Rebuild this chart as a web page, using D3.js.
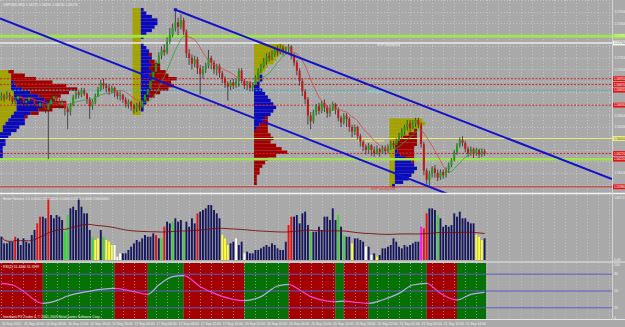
<!DOCTYPE html>
<html>
<head>
<meta charset="utf-8">
<script src="https://cdn.jsdelivr.net/npm/d3@7/dist/d3.min.js"></script>
<style>
  body { margin: 0; background: #a9a9a9; overflow: hidden; }
  svg text { font-family: "Liberation Sans", Arial, sans-serif; font-size: 3.4px; }
</style>
</head>
<body>
<script>
// ---------- data ----------
// prices are stored as pips above 1.5500
const symbolInfo = "GBPUSD,M30  1.56275 1.56290 1.56250 1.56270";
const timeLabels = ["16 Sep 2010", "16 Sep 04:00", "16 Sep 08:00", "16 Sep 12:00", "16 Sep 16:00", "16 Sep 20:00",
    "17 Sep 00:00", "17 Sep 04:00", "17 Sep 08:00", "17 Sep 12:00", "17 Sep 16:00", "19 Sep 22:00",
    "20 Sep 02:00", "20 Sep 06:00", "20 Sep 10:00", "20 Sep 14:00", "20 Sep 18:00", "20 Sep 22:00",
    "21 Sep 02:00", "21 Sep 06:00", "21 Sep 10:00", "21 Sep 14:00"];

const firstOpenPips = 175;
const closePips = [177,175,178,176,172,174,177,175,171,173, 176,174,170,168,171,167,165,170,174,177,
    173,169,172,166,163,169,176,180,178,182, 179,174,168,172,177,183,188,186,184,181,
    184,180,177,178,174,170,172,168,166,169, 167,173,178,183,190,198,205,212,217,215,
    224,230,236,241,237,243,233,214,210,205, 209,201,196,200,203,210,206,200,203,197,
    192,188,185,189,186,190,199,190,186,188, 184,187,193,199,203,207,212,210,214,218,
    215,219,216,218,220,212,206,199,190,181, 174,160,155,163,168,164,171,167,162,166,
    170,165,158,154,160,157,150,146,150,142, 137,133,130,134,130,127,131,128,132,129,
    133,136,134,138,142,146,150,153,149,153, 156,152,135,112,104,109,114,110,106,111,
    108,113,117,121,128,134,139,136,131,127, 131,127,130,126,129,127];
const highPips = [180,179,181,180,177,176,179,178,176,175, 178,178,175,172,173,172,169,172,176,180,
    178,175,174,173,168,171,178,183,182,184, 184,180,176,174,179,185,191,192,188,187,
    186,185,182,181,179,176,174,173,170,171, 172,175,180,185,193,200,208,215,220,222,
    228,236,240,252,245,248,245,235,218,213, 212,211,204,203,206,217,212,208,205,205,
    199,194,190,191,192,192,201,201,192,190, 190,189,195,201,205,210,214,215,217,220,
    221,222,221,220,222,221,214,208,201,192, 183,176,163,165,170,171,173,174,169,168,
    172,171,167,160,162,162,159,152,152,151, 144,139,135,136,135,133,134,132,134,134,
    135,138,138,140,145,149,152,156,156,156, 158,158,154,137,114,112,116,117,113,113,
    113,115,119,123,130,136,141,142,138,133, 133,132,132,131,131,131];
const lowPips = [173,172,174,173,170,170,172,171,169,168, 171,172,167,165,166,164,162,122,168,172,
    170,166,166,160,148,160,168,174,175,176, 177,170,157,165,170,176,181,183,180,178,
    179,176,174,173,171,167,166,164,162,163, 164,166,171,177,182,188,196,203,209,212,
    213,222,228,233,230,235,230,210,204,200, 202,196,178,192,197,201,200,196,195,193,
    188,184,173,182,183,184,185,188,183,182, 181,181,185,191,197,201,204,207,208,211,
    212,213,212,213,214,209,203,195,186,177, 170,152,148,153,160,161,162,163,158,159,
    164,161,155,150,152,150,146,141,143,139, 133,129,126,127,125,124,126,124,127,126,
    127,130,131,132,136,140,143,147,146,148, 150,149,132,108,100,99,106,106,103,104,
    105,106,110,115,120,126,132,133,128,124, 125,123,125,123,124,125];

const volumes = [528,378,378,415,415,528,491,340,491,415, 378,566,680,830,982,982,944,1397,1019,944,
    1019,982,906,642,1019,1170,1208,1133,1397,1208, 1057,1057,680,528,453,491,680,528,453,415,
    340,340,76,151,151,151,227,302,378,453, 415,491,566,528,528,604,566,491,491,755,
    868,830,868,944,868,906,642,868,755,944, 830,1057,1095,1133,1170,1246,1246,1133,1057,944,
    566,491,340,378,415,491,340,415,151,189, 151,151,227,227,264,302,340,302,378,340,
    264,227,227,415,793,982,982,1019,830,1057, 1095,793,642,642,642,755,680,982,982,906,
    1170,906,1019,755,566,528,528,378,491,491, 453,415,302,302,113,151,76,113,264,264,
    302,340,491,415,302,264,340,302,340,378, 415,415,755,717,1057,1170,1170,1133,1019,944,
    755,793,755,793,1057,982,1095,944,944,868, 830,830,566,528,453,491];
// Better Volume bar class: n normal, r climax, g churn, y/w low volume, m climax+churn
const volumeKinds = ("nnnnnrnnnn" + "nnnrrnnrnn" + "nnnggnnnnn" + "nnngyyngyy" + "ywwwnnnnnn" +
    "nnnnnnrngr" + "nngnnngnnn" + "nrnnnnnnnn" + "yyynnwnnwn" + "nnnnnnnnnn" +
    "nnnnrrnnnn" + "nngnnnnnnn" + "nngngnnynn" + "nnwnwnynnn" + "nnnnnnnnnn" +
    "nnmrrnnngn" + "nnnnnnnnnn" + "nnyyyn").split("");

// RSI turning points [bar, value]
const rsiPoints = [[0,63.7],[4,60.7],[9,45.8],[13,30.9],[15,28],[20,32.7],[24,41],[31,48.8],[36,53],[41,54.8],
    [48,49],[53,44],[57,60.7],[62,75.6],[66,77.4],[72,57.7],[78,44],[84,35],[88,32.7],[94,39.9],
    [100,58.9],[104,62],[108,51.8],[112,39.9],[115,35],[121,31],[124,32],[129,29.5],[133,28],[138,34],
    [144,45.8],[149,60.7],[154,63.7],[159,45.8],[165,34],[170,44],[175,47.7]];
const rsiLevels = [80, 50, 20];

// market profiles: start bar, rows [pips, olive TPO, blue TPO, red TPO]
const profileStarts = [0, 48, 92, 141];
const profileA = [[198,3,0,2],[195,4,0,5],[192,4,0,9],[189,4,1,14],[186,4,2,18],[183,4,4,20],[180,5,6,14],
    [177,5,9,8],[174,5,11,4],[171,6,12,6],[168,6,10,8],[165,6,8,5],[162,5,6,3],[159,4,5,1],[156,3,6,0],
    [153,2,7,0],[150,1,6,0],[147,1,5,0],[144,0,4,0],[141,0,3,0],[138,0,2,0],[135,0,2,0],[132,0,1,0],
    [129,0,1,0],[126,0,1,0],[123,0,1,0]];
const profileB = [[252,3,1,0],[249,3,2,0],[246,3,4,0],[243,3,6,0],[240,3,6,0],[237,3,5,0],[234,3,4,0],
    [231,3,2,0],[228,3,1,0],[225,3,0,0],[222,3,1,0],[219,3,2,0],[216,3,3,0],[213,3,3,1],[210,3,4,0],
    [207,3,3,2],[204,3,4,3],[201,3,3,4],[198,3,4,5],[195,3,3,7],[192,3,4,9],[189,3,3,8],[186,3,3,9],
    [183,3,4,6],[180,3,3,4],[177,3,3,2],[174,3,2,1],[171,3,2,0],[168,3,1,0],[165,3,1,0],[162,3,0,0]];
const profileC = [[221,11,0,0],[218,12,0,0],[215,10,0,0],[212,9,0,0],[209,8,0,0],[206,7,0,0],[203,5,0,0],
    [200,4,0,0],[197,3,0,0],[194,2,1,0],[191,2,1,0],[188,1,1,0],[185,0,2,0],[182,0,3,0],[179,0,4,0],
    [176,0,5,0],[173,0,6,0],[170,0,7,0],[167,0,8,0],[164,0,7,0],[161,0,6,0],[158,0,4,1],[155,0,3,2],
    [152,0,2,3],[149,0,1,4],[146,0,0,5],[143,0,0,6],[140,0,0,7],[137,0,0,6],[134,0,0,8],[131,0,0,10],
    [128,0,0,12],[125,0,0,8],[122,0,0,5],[119,0,0,4],[116,0,0,3],[113,0,0,2],[110,0,0,2],[107,0,0,1],
    [104,0,0,1],[101,0,0,1]];
const profileD = [[156,12,0,0],[153,13,0,0],[150,11,0,0],[147,9,0,1],[144,7,0,3],[141,5,0,5],[138,3,0,7],
    [135,2,0,8],[132,2,0,7],[129,2,1,6],[126,2,2,5],[123,2,4,3],[120,2,6,1],[117,2,7,0],[114,2,8,0],
    [111,2,7,0],[108,2,6,0],[105,2,5,0],[102,2,3,0],[99,1,1,0]];

// horizontal levels
const levelPrices = [1.5729, 1.5723, 1.5692, 1.5687, 1.5682, 1.5669, 1.5640, 1.5627, 1.5622, 1.5598];
const levelKinds = ["green", "white", "reddot", "reddot", "cyandot", "reddot", "yellow", "reddot", "greenlow", "red"];
const levelNotes = [[1, 136, "PDP resistance"], [4, 133, "PDP pivot"], [6, 129, "EXP weekly open"], [9, 134, "EXP weekly low"]];

// channel lines [bar, price]
const upperChannel = [[63, 1.5752], [150, 1.5671]];
const lowerChannel = [[0, 1.5744], [155, 1.5598]];

// ---------- layout ----------
const width = 625, height = 327;
const plotRight = 612;
const mainBottom = 193, volTop = 196, volBottom = 260, rsiTop = 263, rsiBottom = 319;
const bg = "#a9a9a9";

const nBars = closePips.length;
const x = d3.scaleLinear().domain([-0.5, nBars - 0.5]).range([0, 486]);
const step = x(1) - x(0);
const toPrice = p => 1.55 + p / 10000;
const y = d3.scaleLinear().domain([1.5750, 1.5600]).range([12, 184.5]);
const yVol = d3.scaleLinear().domain([0, 1450]).range([volBottom, volTop]);
const yRsi = d3.scaleLinear().domain([0, 100]).range([rsiBottom, rsiTop]);

const svg = d3.select("body").append("svg")
    .attr("width", width).attr("height", height)
    .style("display", "block");
svg.append("rect").attr("width", width).attr("height", height).attr("fill", bg);

const defs = svg.append("defs");
defs.append("clipPath").attr("id", "clipMain")
    .append("rect").attr("x", 0).attr("y", 0).attr("width", plotRight).attr("height", mainBottom);

const gridBars = d3.range(0, x.invert(plotRight), 4);
const priceTicks = d3.range(0, 17).map(k => 1.56 + k * 0.001);

// ---------- main panel ----------
const main = svg.append("g").attr("clip-path", "url(#clipMain)");

main.selectAll(".vgrid").data(gridBars).enter().append("line")
    .attr("x1", d => Math.round(x(d)) + 0.5).attr("x2", d => Math.round(x(d)) + 0.5)
    .attr("y1", 0).attr("y2", mainBottom)
    .attr("stroke", "#c4c4c4").attr("stroke-dasharray", "1,2");
main.selectAll(".hgrid").data(priceTicks).enter().append("line")
    .attr("x1", 0).attr("x2", plotRight)
    .attr("y1", d => Math.round(y(d)) + 0.5).attr("y2", d => Math.round(y(d)) + 0.5)
    .attr("stroke", "#c4c4c4").attr("stroke-dasharray", "1,2");

// volume profiles
const profileStep = 3;
const profileColors = ["#a3a300", "#0a0ab8", "#a00000"];
const profileSegs = [];
[profileA, profileB, profileC, profileD].forEach(function (rows, k) {
    rows.forEach(function (r) {
        let x0 = x(profileStarts[k] - 0.5);
        const yTop = y(toPrice(r[0] + profileStep / 2));
        const yBot = y(toPrice(r[0] - profileStep / 2));
        for (let c = 0; c < 3; c++) {
            const n = r[c + 1];
            if (n > 0) {
                profileSegs.push({ x: x0, w: n * step, y: yTop, h: yBot - yTop, color: profileColors[c] });
                x0 += n * step;
            }
        }
    });
});
main.selectAll(".prof").data(profileSegs).enter().append("rect")
    .attr("x", d => d.x).attr("y", d => d.y)
    .attr("width", d => d.w).attr("height", d => d.h)
    .attr("fill", d => d.color);

// level lines
const levelStyle = {
    green:    { stroke: "#a2e24e", width: 3,   dash: null,    box: "#a2e24e", text: "#f8f8f8" },
    greenlow: { stroke: "#a2e24e", width: 2.5, dash: null,    box: "#e01515", text: "#ffffff" },
    white:    { stroke: "#ececec", width: 1.5, dash: null,    box: "#f4f4f4", text: "#555555" },
    reddot:   { stroke: "#c82828", width: 1,   dash: "2,1.5", box: "#e01515", text: "#ffffff" },
    cyandot:  { stroke: "#3cb4c0", width: 1,   dash: "2,1.5", box: "#e01515", text: "#ffffff" },
    yellow:   { stroke: "#ecec70", width: 1,   dash: null,    box: "#f0f07a", text: "#444444" },
    red:      { stroke: "#d03030", width: 1,   dash: null,    box: "#e01515", text: "#ffffff" }
};
const levels = levelPrices.map((p, i) => ({ price: p, style: levelStyle[levelKinds[i]] }));
main.selectAll(".level").data(levels).enter().append("line")
    .attr("x1", 0).attr("x2", plotRight)
    .attr("y1", d => y(d.price)).attr("y2", d => y(d.price))
    .attr("stroke", d => d.style.stroke)
    .attr("stroke-width", d => d.style.width)
    .attr("stroke-dasharray", d => d.style.dash);

const noteColor = { green: "#eeeeee", white: "#f0f0f0", cyandot: "#6ee8ee", yellow: "#f0f070", red: "#e03030" };
main.selectAll(".note").data(levelNotes).enter().append("text")
    .attr("x", d => x(d[1]))
    .attr("y", d => y(levelPrices[d[0]]) + 3.2)
    .attr("fill", d => noteColor[levelKinds[d[0]]] || "#eeeeee")
    .text(d => d[2]);

// candles
const candles = closePips.map((c, i) => ({
    i: i,
    o: toPrice(i ? closePips[i - 1] : firstOpenPips),
    c: toPrice(c),
    h: toPrice(highPips[i]),
    l: toPrice(lowPips[i])
}));
const bodyW = step * 0.72;
main.selectAll(".wick").data(candles).enter().append("line")
    .attr("x1", d => x(d.i)).attr("x2", d => x(d.i))
    .attr("y1", d => y(d.h)).attr("y2", d => y(d.l))
    .attr("stroke", "#2c2c2c").attr("stroke-width", 0.8);
main.selectAll(".body").data(candles).enter().append("rect")
    .attr("x", d => x(d.i) - bodyW / 2)
    .attr("y", d => y(Math.max(d.o, d.c)))
    .attr("width", bodyW)
    .attr("height", d => Math.max(0.8, Math.abs(y(d.o) - y(d.c))))
    .attr("fill", d => d.c >= d.o ? "#1f9a1f" : "#c41616");

// moving average of closes, coloured by slope
function sma(arr, n) {
    return arr.map((_, i) => d3.mean(arr.slice(Math.max(0, i - n + 1), i + 1)));
}
const ma = sma(candles.map(d => d.c), 10);
const maSegs = d3.range(1, ma.length).map(i => ({ i: i, a: ma[i - 1], b: ma[i] }));
main.selectAll(".ma").data(maSegs).enter().append("line")
    .attr("x1", d => x(d.i - 1)).attr("x2", d => x(d.i))
    .attr("y1", d => y(d.a)).attr("y2", d => y(d.b))
    .attr("stroke", d => d.b >= d.a ? "#3aa040" : "#d04848")
    .attr("stroke-width", 0.8);

// channel lines
function chanPrice(pts, b) {
    const a = pts[0], c = pts[1];
    return a[1] + (c[1] - a[1]) * (b - a[0]) / (c[0] - a[0]);
}
const barRight = x.invert(plotRight);
const channels = [
    [upperChannel[0][0], barRight, upperChannel],
    [x.invert(0), barRight, lowerChannel]
];
main.selectAll(".chan").data(channels).enter().append("line")
    .attr("x1", d => x(d[0])).attr("x2", d => x(d[1]))
    .attr("y1", d => y(chanPrice(d[2], d[0]))).attr("y2", d => y(chanPrice(d[2], d[1])))
    .attr("stroke", "#1212c8").attr("stroke-width", 2);
main.append("rect")
    .attr("x", x(upperChannel[0][0]) - 1.5).attr("y", y(upperChannel[0][1]) - 1.5)
    .attr("width", 3).attr("height", 3).attr("fill", "#1212c8");

svg.append("text").attr("x", 3).attr("y", 6).attr("fill", "#f0f0f0").text(symbolInfo);

// ---------- volume panel ----------
const volG = svg.append("g");
volG.selectAll(".vgrid").data(gridBars).enter().append("line")
    .attr("x1", d => Math.round(x(d)) + 0.5).attr("x2", d => Math.round(x(d)) + 0.5)
    .attr("y1", volTop - 1).attr("y2", 261)
    .attr("stroke", "#c4c4c4").attr("stroke-dasharray", "1,2");

const volColor = { n: "#16165e", r: "#e41212", g: "#38d438", y: "#ffff30", w: "#ffffff", m: "#ff10ff" };
const volW = step * 0.68;
volG.selectAll(".vbar").data(volumes).enter().append("rect")
    .attr("x", (d, i) => x(i) - volW / 2)
    .attr("y", d => yVol(d))
    .attr("width", volW)
    .attr("height", d => volBottom - yVol(d))
    .attr("fill", (d, i) => volColor[volumeKinds[i]]);

const volMa = sma(volumes, 100);
volG.append("path")
    .datum(volMa)
    .attr("fill", "none")
    .attr("stroke", "#7a0c0c")
    .attr("stroke-width", 0.9)
    .attr("d", d3.line().x((d, i) => x(i)).y(d => yVol(d)));

svg.append("text").attr("x", 3).attr("y", 200).attr("fill", "#f0f0f0")
    .text("Better Volume 1.5 0.0000 1513.0000 0.0000 0.0000 0.0000 1563.0000");

// ---------- RSI panel ----------
const rsiG = svg.append("g");
const spans = [];
for (let k = 1; k < rsiPoints.length; k++) {
    const dir = rsiPoints[k][1] >= rsiPoints[k - 1][1] ? "up" : "down";
    const last = spans[spans.length - 1];
    if (last && last.dir === dir) last.to = rsiPoints[k][0];
    else spans.push({ dir: dir, from: rsiPoints[k - 1][0], to: rsiPoints[k][0] });
}
spans[0].from = -0.5;
spans[spans.length - 1].to = nBars - 0.5;

rsiG.selectAll(".zone").data(spans).enter().append("rect")
    .attr("x", d => x(d.from)).attr("width", d => x(d.to) - x(d.from))
    .attr("y", rsiTop).attr("height", rsiBottom - rsiTop)
    .attr("fill", d => d.dir === "up" ? "#067206" : "#a40202");

rsiG.selectAll(".vgrid").data(gridBars).enter().append("line")
    .attr("x1", d => Math.round(x(d)) + 0.5).attr("x2", d => Math.round(x(d)) + 0.5)
    .attr("y1", rsiTop).attr("y2", rsiBottom)
    .attr("stroke", "#c8c8c8").attr("stroke-opacity", 0.6).attr("stroke-dasharray", "1,2");

rsiG.selectAll(".rlevel").data(rsiLevels).enter().append("line")
    .attr("x1", 0).attr("x2", plotRight)
    .attr("y1", d => yRsi(d)).attr("y2", d => yRsi(d))
    .attr("stroke", "#5c5cc8").attr("stroke-width", 1);

const grad = defs.append("linearGradient").attr("id", "rsiGrad")
    .attr("gradientUnits", "userSpaceOnUse")
    .attr("x1", 0).attr("x2", x(nBars - 0.5)).attr("y1", 0).attr("y2", 0);
const gradW = x(nBars - 0.5);
spans.forEach(function (s) {
    const col = s.dir === "up" ? "#b4aee8" : "#e848d8";
    grad.append("stop").attr("offset", Math.max(0, x(s.from)) / gradW).attr("stop-color", col);
    grad.append("stop").attr("offset", x(s.to) / gradW).attr("stop-color", col);
});
rsiG.append("path")
    .datum(rsiPoints)
    .attr("fill", "none")
    .attr("stroke", "url(#rsiGrad)")
    .attr("stroke-width", 1.2)
    .attr("d", d3.line().x(d => x(d[0])).y(d => yRsi(d[1])).curve(d3.curveMonotoneX));

svg.append("text").attr("x", 3).attr("y", 268).attr("fill", "#f0f0f0").text("RSI(2) 51.4400 51.9299");
svg.append("text").attr("x", 3).attr("y", 317.5).attr("fill", "#f0f0f0")
    .text("Interbank FX Trader 4, \u00a9 2001-2009 MetaQuotes Software Corp.");

// ---------- separators ----------
svg.append("line").attr("x1", 0).attr("x2", width).attr("y1", 193.5).attr("y2", 193.5)
    .attr("stroke", "#f4f4f4").attr("stroke-width", 1.5);
svg.append("line").attr("x1", 0).attr("x2", width).attr("y1", 262).attr("y2", 262)
    .attr("stroke", "#e8e8e8").attr("stroke-width", 1);
svg.append("line").attr("x1", 0).attr("x2", width).attr("y1", 319.5).attr("y2", 319.5)
    .attr("stroke", "#e8e8e8").attr("stroke-width", 1);
svg.append("line").attr("x1", plotRight + 0.5).attr("x2", plotRight + 0.5).attr("y1", 0).attr("y2", 320)
    .attr("stroke", "#d4d4d4").attr("stroke-width", 1);

// ---------- right axis ----------
const axisG = svg.append("g");
// plain price labels, skipped where a level box sits
const freeTicks = priceTicks.filter(p => y(p) > 3 &&
    levelPrices.every(lp => Math.abs(y(lp) - y(p)) > 5.5));
axisG.selectAll(".ptick").data(freeTicks).enter().append("text")
    .attr("x", plotRight + 2).attr("y", d => y(d) + 1.2)
    .attr("fill", "#f0f0f0")
    .text(d => d.toFixed(5));
const boxH = 4.8;
const boxes = axisG.selectAll(".lbox").data(levels).enter().append("g")
    .attr("transform", d => "translate(" + (plotRight + 1) + "," + (y(d.price) - boxH / 2) + ")");
boxes.append("rect").attr("width", 13).attr("height", boxH).attr("fill", d => d.style.box);
boxes.append("text").attr("x", 1).attr("y", 3.5).attr("fill", d => d.style.text)
    .style("font-size", "3.1px")
    .text(d => d.price.toFixed(5));

const volTicks = [[1449.3, volTop + 2], [0, volBottom]];
axisG.selectAll(".vtick").data(volTicks).enter().append("text")
    .attr("x", plotRight + 2).attr("y", d => d[1] + 1)
    .attr("fill", "#f0f0f0")
    .text(d => d[0] ? d[0].toFixed(1) : "0.00");
axisG.selectAll(".rtick").data([100, 80, 50, 20, 0]).enter().append("text")
    .attr("x", plotRight + 2).attr("y", d => Math.min(rsiBottom, Math.max(rsiTop + 3, yRsi(d) + 1.2)))
    .attr("fill", "#f0f0f0")
    .text(d => d);

// ---------- time axis ----------
svg.selectAll(".tlabel").data(timeLabels).enter().append("text")
    .attr("x", (d, i) => x(i * 8) + 0.5)
    .attr("y", 325)
    .attr("fill", "#f0f0f0")
    .text(d => d);
</script>
</body>
</html>
